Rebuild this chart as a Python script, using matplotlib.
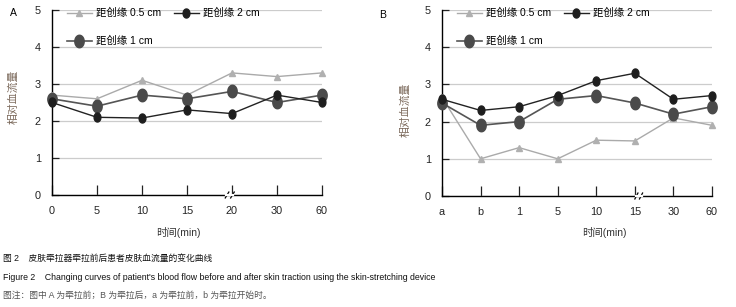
import numpy as np
import matplotlib
matplotlib.use("Agg")
import matplotlib.pyplot as plt
from matplotlib.path import Path

plt.rcParams['font.family'] = ['Liberation Sans', 'Noto Sans CJK SC', 'DejaVu Sans']

# panel A: before traction
labels_a = ["0", "5", "10", "15", "20", "30", "60"]
a_05 = [2.7, 2.6, 3.1, 2.7, 3.3, 3.2, 3.3]
a_1 = [2.6, 2.4, 2.7, 2.6, 2.8, 2.5, 2.7]
a_2 = [2.5, 2.1, 2.08, 2.3, 2.2, 2.7, 2.5]

# panel B: after traction
labels_b = ["a", "b", "1", "5", "10", "15", "30", "60"]
b_05 = [2.65, 1.0, 1.3, 1.0, 1.5, 1.48, 2.1, 1.9]
b_1 = [2.5, 1.9, 2.0, 2.6, 2.7, 2.5, 2.2, 2.4]
b_2 = [2.6, 2.3, 2.4, 2.7, 3.1, 3.3, 2.6, 2.7]

names = ["距创缘 0.5 cm", "距创缘 1 cm", "距创缘 2 cm"]

# vertical oval marker
t = np.linspace(0, 2 * np.pi, 40)
oval = Path(np.column_stack([0.75 * np.cos(t), np.sin(t)]), closed=True)

fig = plt.figure(figsize=(7.36, 3.07), dpi=100)
ax_a = fig.add_axes([52 / 736, 1 - 195 / 307, 270 / 736, 185 / 307])
ax_b = fig.add_axes([442 / 736, 1 - 196 / 307, 270 / 736, 186 / 307])


def draw(ax, labels, s05, s1, s2, brk):
    x = np.arange(len(labels))
    ax.plot(x, s05, color="#aaaaaa", lw=1.0, marker="^", ms=4.5,
            mfc="#b0b0b0", mec="#b0b0b0", clip_on=False, zorder=3, label=names[0])
    ax.plot(x, s1, color="#555555", lw=1.2, marker=oval, ms=9,
            mfc="#4a4a4a", mec="#4a4a4a", clip_on=False, zorder=4, label=names[1])
    ax.plot(x, s2, color="#222222", lw=1.0, marker=oval, ms=6.5,
            mfc="#1e1e1e", mec="#1e1e1e", clip_on=False, zorder=5, label=names[2])
    ax.set_xlim(0, len(labels) - 1)
    ax.set_ylim(0, 5)
    ax.set_xticks(x)
    ax.set_xticklabels(labels)
    ax.set_yticks(range(6))
    ax.yaxis.grid(True, color="#cccccc", lw=0.9)
    ax.set_axisbelow(True)
    for s in ["top", "right"]:
        ax.spines[s].set_visible(False)
    ax.spines["left"].set_linewidth(1.0)
    ax.spines["bottom"].set_linewidth(1.0)
    ax.tick_params(direction="in", length=5, width=0.9, labelsize=7.8,
                   colors="#222222", pad=8)
    ax.tick_params(axis="x", length=7)
    # axis break marks
    for dx in (-0.06, 0.06):
        ax.plot([brk + dx - 0.04, brk + dx + 0.04], [-0.08, 0.08],
                color="black", lw=0.9, clip_on=False, transform=ax.transData)
    ax.plot([brk - 0.08, brk + 0.08], [0, 0], color="white", lw=1.6,
            clip_on=False, zorder=2.6)
    leg = ax.legend(ncol=2, loc="upper left", bbox_to_anchor=(0.02, 1.06),
                    frameon=False, fontsize=7.5, handlelength=2.4,
                    columnspacing=1.2, labelspacing=1.7, handletextpad=0.4)
    return leg


draw(ax_a, labels_a, a_05, a_1, a_2, 3.95)
draw(ax_b, labels_b, b_05, b_1, b_2, 5.1)

fig.text(13 / 736, 1 - 13 / 307, "A", fontsize=7.5, ha="center", va="center")
fig.text(383 / 736, 1 - 15 / 307, "B", fontsize=7.5, ha="center", va="center")

for xx, yy in [(13, 97), (405, 110)]:
    fig.text(xx / 736, 1 - yy / 307, "相对血流量", rotation=90, fontsize=7.8,
             color="#7d6b5d", ha="center", va="center")
fig.text(178 / 736, 1 - 232 / 307, "时间(min)", fontsize=7.5, color="#333333",
         ha="center", va="center")
fig.text(604 / 736, 1 - 233 / 307, "时间(min)", fontsize=7.5, color="#333333",
         ha="center", va="center")

cap = 6.3
fig.text(3 / 736, 1 - 258 / 307, "图 2    皮肤牵拉器牵拉前后患者皮肤血流量的变化曲线",
         fontsize=cap, ha="left", va="center", color="#111111")
fig.text(3 / 736, 1 - 277 / 307,
         "Figure 2    Changing curves of patient's blood flow before and after skin traction using the skin-stretching device",
         fontsize=cap, ha="left", va="center", color="#111111")
fig.text(3 / 736, 1 - 295 / 307, "图注：图中 A 为牵拉前；B 为牵拉后，a 为牵拉前，b 为牵拉开始时。",
         fontsize=cap, ha="left", va="center", color="#555555")

fig.savefig("out.png", dpi=100)
